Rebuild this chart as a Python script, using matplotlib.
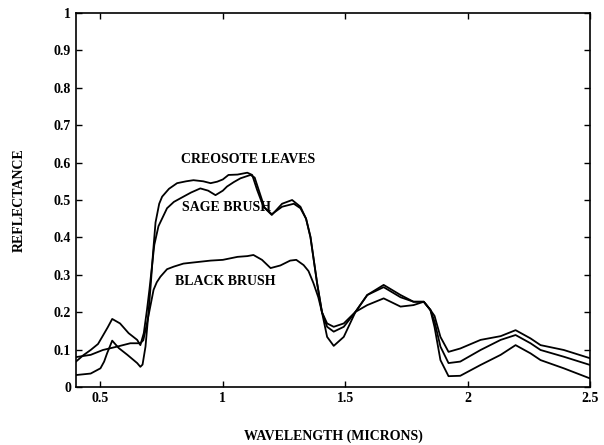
import matplotlib
matplotlib.use("Agg")
import matplotlib.pyplot as plt

# ---- data ----
creosote_wl = [0.4, 0.43, 0.46, 0.5, 0.515, 0.527, 0.548, 0.56, 0.575, 0.61, 0.65, 0.663, 0.672,
               0.684, 0.695, 0.705, 0.715, 0.725, 0.74, 0.752, 0.78, 0.813, 0.85, 0.88, 0.92, 0.95,
               0.977, 1.0, 1.023, 1.06, 1.1, 1.12, 1.14, 1.166, 1.2, 1.242, 1.283, 1.317, 1.34,
               1.358, 1.385, 1.405, 1.426, 1.453, 1.494, 1.542, 1.59, 1.657, 1.726, 1.779, 1.821,
               1.848, 1.865, 1.889, 1.922, 1.97, 2.053, 2.135, 2.196, 2.257, 2.298, 2.393, 2.5]
creosote_refl = [0.032, 0.034, 0.036, 0.05, 0.068, 0.09, 0.124, 0.115, 0.104, 0.086, 0.064, 0.054, 0.06,
                 0.108, 0.19, 0.27, 0.36, 0.44, 0.49, 0.509, 0.53, 0.545, 0.55, 0.553, 0.55, 0.545,
                 0.549, 0.555, 0.567, 0.568, 0.573, 0.567, 0.527, 0.482, 0.46, 0.49, 0.5, 0.482, 0.45,
                 0.402, 0.278, 0.2, 0.134, 0.11, 0.134, 0.201, 0.246, 0.273, 0.246, 0.228, 0.228,
                 0.206, 0.16, 0.072, 0.029, 0.03, 0.059, 0.086, 0.112, 0.09, 0.072, 0.05, 0.023]

sage_wl = [0.4, 0.43, 0.46, 0.49, 0.507, 0.53, 0.548, 0.58, 0.615, 0.65, 0.663, 0.677, 0.69, 0.70,
           0.71, 0.72, 0.737, 0.772, 0.80, 0.839, 0.87, 0.908, 0.94, 0.97, 1.0, 1.017, 1.045, 1.072,
           1.113, 1.13, 1.15, 1.17, 1.2, 1.242, 1.29, 1.317, 1.34, 1.358, 1.385, 1.405, 1.426, 1.453,
           1.494, 1.542, 1.59, 1.657, 1.726, 1.779, 1.821, 1.848, 1.865, 1.889, 1.922, 1.97, 2.053,
           2.135, 2.196, 2.257, 2.298, 2.393, 2.5]
sage_refl = [0.068, 0.085, 0.099, 0.115, 0.134, 0.16, 0.182, 0.17, 0.144, 0.126, 0.112, 0.144, 0.206, 0.26,
             0.32, 0.38, 0.43, 0.478, 0.495, 0.509, 0.52, 0.531, 0.525, 0.513, 0.525, 0.536, 0.548, 0.558,
             0.567, 0.56, 0.52, 0.48, 0.462, 0.482, 0.49, 0.478, 0.45, 0.40, 0.278, 0.2, 0.161, 0.148,
             0.161, 0.201, 0.246, 0.267, 0.24, 0.228, 0.228, 0.206, 0.175, 0.108, 0.064, 0.068, 0.099,
             0.126, 0.139, 0.117, 0.099, 0.081, 0.059]

black_wl = [0.4, 0.46, 0.51, 0.568, 0.622, 0.663, 0.675, 0.69, 0.705, 0.717, 0.73, 0.745, 0.772, 0.80,
            0.839, 0.88, 0.95, 1.0, 1.06, 1.1, 1.125, 1.16, 1.195, 1.235, 1.275, 1.3, 1.33, 1.35, 1.37,
            1.39, 1.405, 1.426, 1.453, 1.494, 1.542, 1.59, 1.657, 1.726, 1.779, 1.821, 1.848, 1.865,
            1.889, 1.922, 1.97, 2.053, 2.135, 2.196, 2.257, 2.298, 2.393, 2.5]
black_refl = [0.08, 0.086, 0.099, 0.108, 0.117, 0.117, 0.125, 0.17, 0.22, 0.26, 0.28, 0.295, 0.315, 0.322,
              0.33, 0.333, 0.338, 0.34, 0.348, 0.35, 0.353, 0.34, 0.318, 0.325, 0.338, 0.34, 0.326, 0.31, 0.278,
              0.24, 0.2, 0.17, 0.161, 0.17, 0.201, 0.219, 0.237, 0.215, 0.219, 0.228, 0.206, 0.19,
              0.134, 0.094, 0.103, 0.126, 0.136, 0.152, 0.13, 0.112, 0.099, 0.077]

labels = ["CREOSOTE LEAVES", "SAGE BRUSH", "BLACK BRUSH"]
label_x = [0.831, 0.835, 0.806]
label_y = [0.607, 0.479, 0.283]

xticks = [0.5, 1, 1.5, 2, 2.5]
xtick_labels = ["0.5", "1", "1.5", "2", "2.5"]
yticks = [0, 0.1, 0.2, 0.3, 0.4, 0.5, 0.6, 0.7, 0.8, 0.9, 1]
ytick_labels = ["0", "0.1", "0.2", "0.3", "0.4", "0.5", "0.6", "0.7", "0.8", "0.9", "1"]

# ---- plot ----
plt.rcParams['font.family'] = ['Liberation Serif', 'DejaVu Serif']
plt.rcParams['font.weight'] = 'bold'

fig = plt.figure(figsize=(6.04, 4.45), dpi=100)
ax = fig.add_axes([0.1258, 0.1303, 0.851, 0.8405])

for wl, rf in [(creosote_wl, creosote_refl), (sage_wl, sage_refl), (black_wl, black_refl)]:
    ax.plot(wl, rf, color='black', lw=1.3)

for t, x, y in zip(labels, label_x, label_y):
    ax.text(x, y, t, ha='left', va='center', fontsize=10, fontweight='bold')

ax.set_xlim(0.4, 2.5)
ax.set_ylim(0, 1)
ax.set_xticks(xticks)
ax.set_xticklabels(xtick_labels)
ax.set_yticks(yticks)
ax.set_yticklabels(ytick_labels)
ax.tick_params(direction='in', length=4, width=1, labelsize=10, top=True, right=True,
               labeltop=False, labelright=False)
for s in ax.spines.values():
    s.set_linewidth(1.2)

ax.set_xlabel("WAVELENGTH (MICRONS)", fontsize=10, fontweight='bold', labelpad=18)
ax.set_ylabel("REFLECTANCE", fontsize=10, fontweight='bold', labelpad=20)

fig.savefig("out.png", dpi=100)
